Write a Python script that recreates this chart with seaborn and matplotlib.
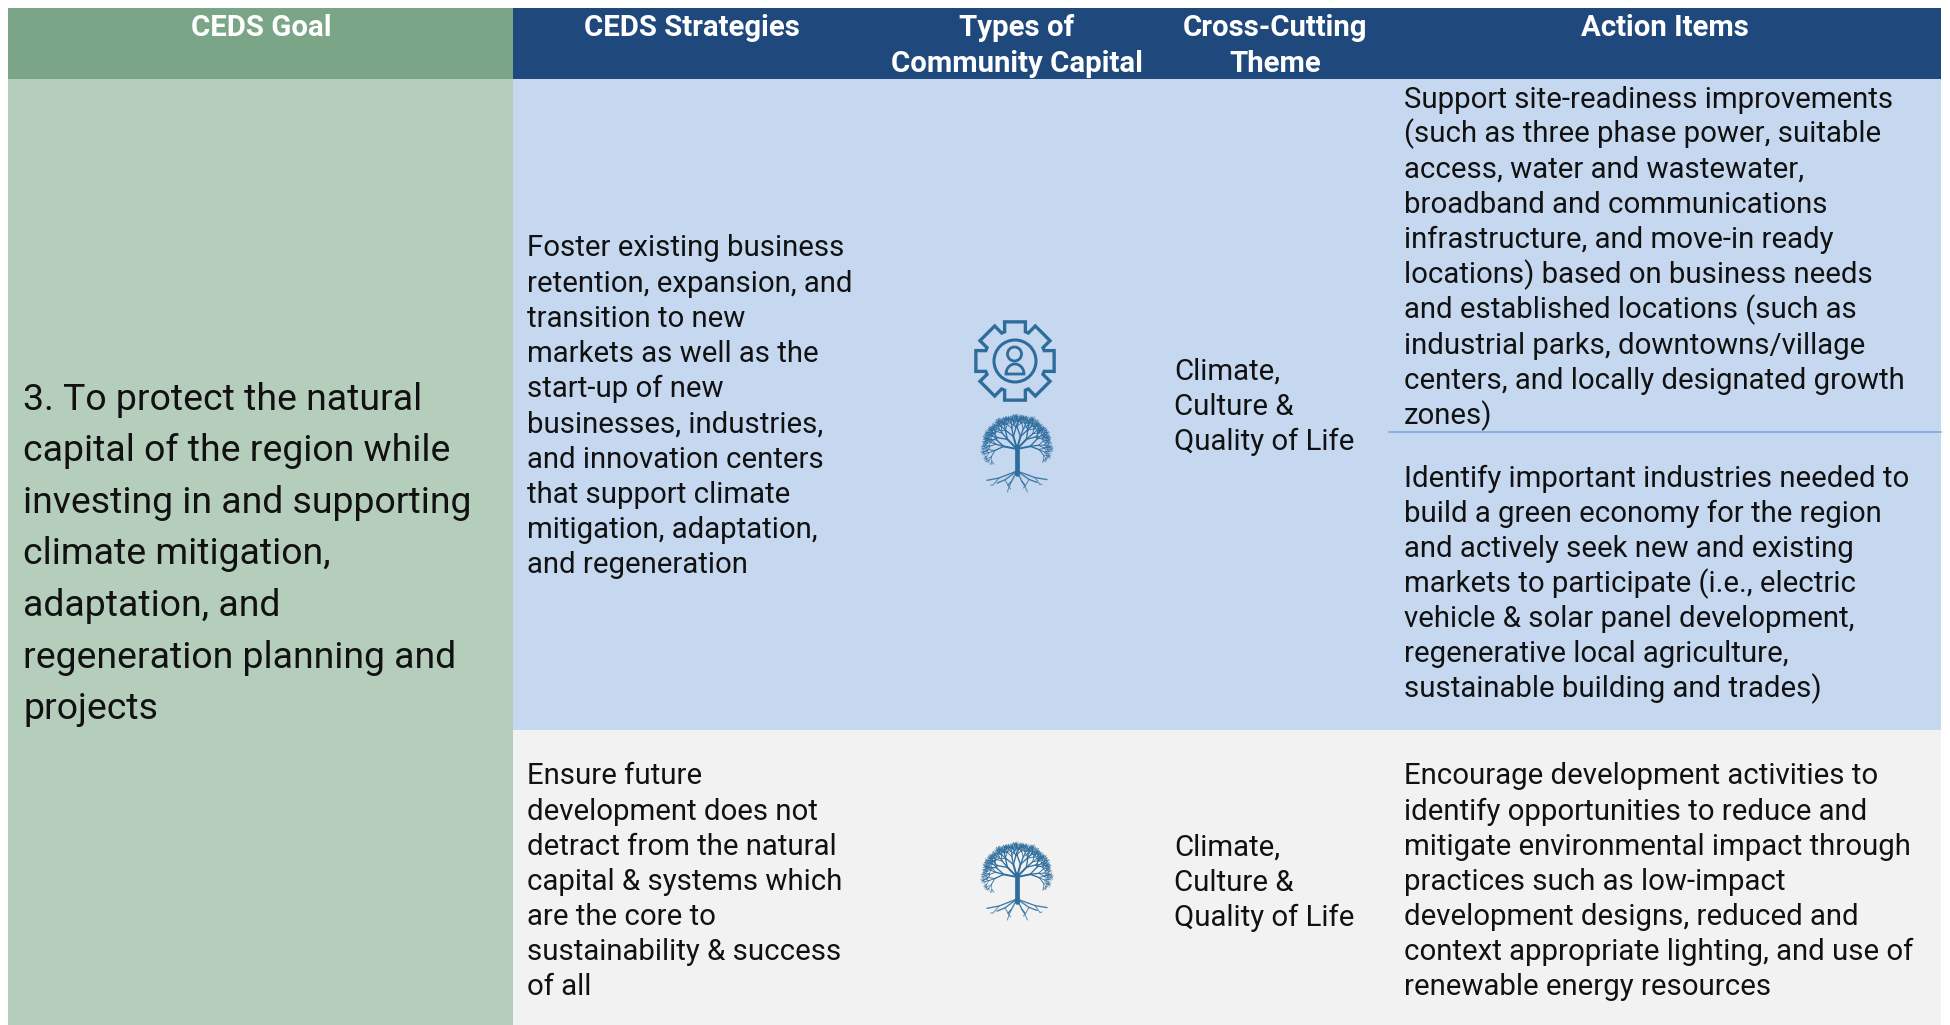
import numpy as np
import seaborn as sns
import matplotlib.pyplot as plt
from matplotlib.patches import Circle, Polygon, Rectangle

plt.switch_backend("Agg")

HEADERS = [
    ["CEDS Goal"],
    ["CEDS Strategies"],
    ["Types of", "Community Capital"],
    ["Cross-Cutting", "Theme"],
    ["Action Items"],
]
GOAL = [
    "3. To protect the natural",
    "capital of the region while",
    "investing in and supporting",
    "climate mitigation,",
    "adaptation, and",
    "regeneration planning and",
    "projects",
]
STRATEGY_1 = [
    "Foster existing business",
    "retention, expansion, and",
    "transition to new",
    "markets as well as the",
    "start-up of new",
    "businesses, industries,",
    "and innovation centers",
    "that support climate",
    "mitigation, adaptation,",
    "and regeneration",
]
STRATEGY_2 = [
    "Ensure future",
    "development does not",
    "detract from the natural",
    "capital & systems which",
    "are the core to",
    "sustainability & success",
    "of all",
]
THEME = ["Climate,", "Culture &", "Quality of Life"]
ACTION_1 = [
    "Support site-readiness improvements",
    "(such as three phase power, suitable",
    "access, water and wastewater,",
    "broadband and communications",
    "infrastructure, and move-in ready",
    "locations) based on business needs",
    "and established locations (such as",
    "industrial parks, downtowns/village",
    "centers, and locally designated growth",
    "zones)",
]
ACTION_2 = [
    "Identify important industries needed to",
    "build a green economy for the region",
    "and actively seek new and existing",
    "markets to participate (i.e., electric",
    "vehicle & solar panel development,",
    "regenerative local agriculture,",
    "sustainable building and trades)",
]
ACTION_3 = [
    "Encourage development activities to",
    "identify opportunities to reduce and",
    "mitigate environmental impact through",
    "practices such as low-impact",
    "development designs, reduced and",
    "context appropriate lighting, and use of",
    "renewable energy resources",
]

ICON = "#2E6C9C"


def write_lines(ax, x, y, lines, size, step):
    # y is the baseline of the first line, in picture pixels
    for i, line in enumerate(lines):
        ax.text(x, y + i * step, line, fontsize=size, va="baseline", ha="left", color="#111111")


def draw_gear(ax, cx, cy):
    pts = []
    for k in range(8):
        a = k * np.pi / 4 - np.pi / 2
        for r, da in [(31, -0.34), (40.5, -0.26), (40.5, 0.26), (31, 0.34)]:
            pts.append((cx + r * np.cos(a + da), cy + r * np.sin(a + da)))
    ax.add_patch(Polygon(pts, closed=True, fill=False, ec=ICON, lw=2.4, joinstyle="miter"))
    ax.add_patch(Circle((cx, cy), 21, fill=False, ec=ICON, lw=2.2))
    ax.add_patch(Circle((cx - 0.5, cy - 7), 7, fill=False, ec=ICON, lw=2.0))
    t = np.linspace(np.pi, 2 * np.pi, 30)
    body = list(zip(cx + 9 * np.cos(t), cy + 13 + 10 * np.sin(t)))
    ax.add_patch(Polygon(body, closed=True, fill=False, ec=ICON, lw=2.0))


def branch(ax, x, y, ang, length, width, depth):
    x2 = x + length * np.cos(ang)
    y2 = y + length * np.sin(ang)
    ax.plot([x, x2], [y, y2], color=ICON, lw=width, solid_capstyle="round")
    if depth == 0:
        return
    for da, f in [(-0.62, 0.72), (0.55, 0.7), (0.08, 0.62)]:
        branch(ax, x2, y2, ang + da, length * f, max(width * 0.66, 0.4), depth - 1)


def draw_tree(ax, cx, top):
    # top is the upper edge of the canopy
    base = top + 62
    ax.plot([cx, cx], [base, top + 34], color=ICON, lw=3.4, solid_capstyle="round")
    for a, length in [(-2.95, 13.5), (-2.35, 13.5), (-1.85, 13), (-1.3, 13), (-0.8, 13.5), (-0.2, 13.5)]:
        branch(ax, cx, top + 37, a, length, 1.4, 4)
    # roots
    for dx, dy, sub in [(-30, 9, -6), (-20, 13, 4), (-9, 16, -3), (8, 16, 4), (20, 12, -4), (30, 8, 5)]:
        mx, my = cx + dx * 0.6, base + dy * 0.45
        ax.plot([cx, mx, cx + dx], [base - 3, my, base + dy * 0.7], color=ICON, lw=1.0, alpha=0.85)
        ax.plot([mx, mx + sub, mx + sub * 1.4], [my, my + 7, base + dy + 2], color=ICON, lw=0.7, alpha=0.75)


def main():
    sns.set_theme(style="white")
    plt.rcParams["font.family"] = ["Roboto", "DejaVu Sans"]

    fig = plt.figure(figsize=(19.5, 10.25), dpi=100)
    ax = fig.add_axes([0, 0, 1, 1])
    ax.set_xlim(0, 1950)
    ax.set_ylim(1025, 0)
    ax.axis("off")
    sns.despine(ax=ax, left=True, bottom=True)

    for x0, x1, y0, y1, c in [
        (8, 513, 8, 79, "#7AA586"),
        (513, 1941, 8, 79, "#1F497D"),
        (8, 513, 79, 1025, "#B5CDBB"),
        (513, 1941, 79, 730, "#C5D8F0"),
        (513, 1941, 730, 1025, "#F2F2F2"),
    ]:
        ax.add_patch(Rectangle((x0, y0), x1 - x0, y1 - y0, fc=c, ec="none"))
    ax.plot([1389, 1941], [432, 432], color="#7FA8DC", lw=1.2)

    centers = [261, 692, 1017, 1275, 1665]
    for cx, head in zip(centers, HEADERS):
        for i, line in enumerate(head):
            ax.text(cx, 35.5 + i * 36, line, fontsize=21.2, fontweight="bold", color="white",
                    ha="center", va="baseline")

    write_lines(ax, 23, 409.5, GOAL, 26.9, 51.6)
    write_lines(ax, 527, 256.5, STRATEGY_1, 21.2, 35.2)
    write_lines(ax, 527, 784.5, STRATEGY_2, 21.2, 35.1)
    write_lines(ax, 1174.5, 380, THEME, 21.2, 35.2)
    write_lines(ax, 1174.5, 856, THEME, 21.2, 35.2)
    write_lines(ax, 1403.5, 107.5, ACTION_1, 21.2, 35.15)
    write_lines(ax, 1403.5, 487, ACTION_2, 21.2, 35.1)
    write_lines(ax, 1403.5, 784.5, ACTION_3, 21.2, 35.1)

    draw_gear(ax, 1015, 361)
    draw_tree(ax, 1017, 412)
    draw_tree(ax, 1017, 840)

    fig.savefig("out.png", dpi=100)


if __name__ == "__main__":
    main()
